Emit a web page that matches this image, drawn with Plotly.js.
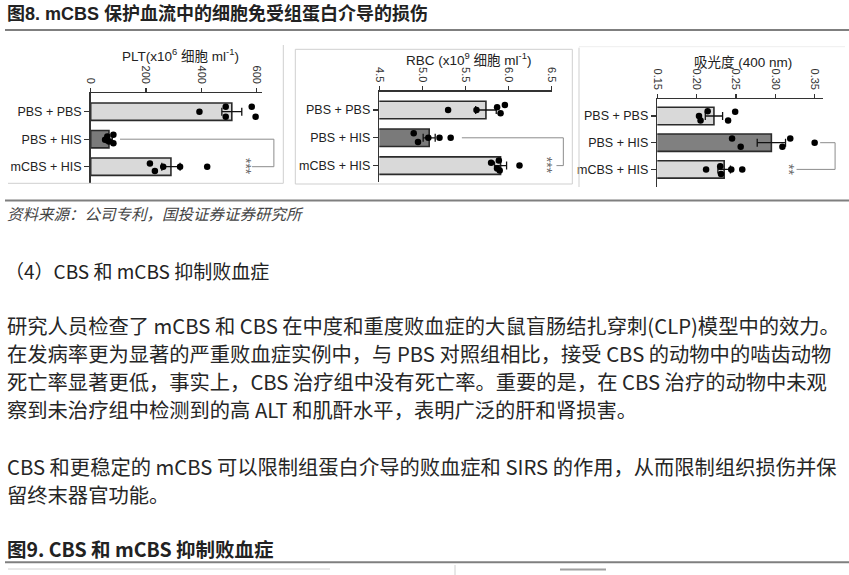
<!DOCTYPE html>
<html>
<head>
<meta charset="utf-8">
<script src="https://cdn.plot.ly/plotly-3.0.1.min.js"></script>
<style>
html,body{margin:0;padding:0;background:#fff;}
#chart{width:849px;height:575px;}
</style>
</head>
<body>
<div id="chart"></div>
<script>
// ---------------- data ----------------
const categories = ['PBS + PBS', 'PBS + HIS', 'mCBS + HIS'];

const plt_mean = [510, 66, 290];
const plt_sem = [36, 12, 33];
const plt_dots = [[393, 488, 488, 582, 596], [52, 60, 66, 82, 82], [214, 232, 262, 323, 421]];
const plt_jitter = [[0, -0.18, 0.18, -0.18, 0.18], [0.02, -0.1, 0.08, -0.16, 0.15], [-0.12, 0.16, 0, 0, 0]];
const plt_ticks = [0, 200, 400, 600];
const plt_bracket_x = [106, 662, 662, 583];
const plt_star_x = 564;

const rbc_mean = [5.74, 5.08, 5.91];
const rbc_sem = [0.12, 0.07, 0.07];
const rbc_dots = [[5.30, 5.63, 5.87, 5.91, 5.96], [4.90, 4.95, 5.07, 5.20, 5.33], [5.80, 5.87, 5.89, 5.90, 6.13]];
const rbc_jitter = [[0, 0, -0.1, 0.12, -0.18], [-0.16, 0.15, 0, 0, 0], [-0.1, 0.1, -0.18, 0.18, 0]];
const rbc_ticks = [4.5, 5.0, 5.5, 6.0, 6.5];
const rbc_bracket_x = [5.46, 6.64, 6.64, 6.56];
const rbc_star_x = 6.46;

const abs_mean = [0.222, 0.295, 0.235];
const abs_sem = [0.011, 0.018, 0.008];
const abs_dots = [[0.214, 0.203, 0.205, 0.240, 0.249], [0.245, 0.256, 0.309, 0.319, 0.350], [0.212, 0.230, 0.231, 0.244, 0.258]];
const abs_jitter = [[-0.18, 0, 0.17, 0.17, -0.16], [-0.16, 0.15, 0.15, -0.16, 0], [0, -0.12, 0.17, 0, 0]];
const abs_ticks = [0.15, 0.20, 0.25, 0.30, 0.35];
const abs_bracket_x = [0.357, 0.376, 0.376, 0.327];
const abs_star_x = 0.3165;

const bracket_y = [1, 1, 2, 2];

const titleText = '<b>图8. mCBS 保护血流中的细胞免受组蛋白介导的损伤</b>';
const sourceText = '<i>资料来源：公司专利，国投证券证券研究所</i>';
const headingText = '（4）CBS 和 mCBS 抑制败血症';
const para1 = [
  '研究人员检查了 mCBS 和 CBS 在中度和重度败血症的大鼠盲肠结扎穿刺(CLP)模型中的效力。',
  '在发病率更为显著的严重败血症实例中，与 PBS 对照组相比，接受 CBS 的动物中的啮齿动物',
  '死亡率显著更低，事实上，CBS 治疗组中没有死亡率。重要的是，在 CBS 治疗的动物中未观',
  '察到未治疗组中检测到的高 ALT 和肌酐水平，表明广泛的肝和肾损害。'
];
const para2 = [
  'CBS 和更稳定的 mCBS 可以限制组蛋白介导的败血症和 SIRS 的作用，从而限制组织损伤并保',
  '留终末器官功能。'
];
const fig9Text = '<b>图9. CBS 和 mCBS 抑制败血症</b>';

// ---------------- layout helpers ----------------
const W = 849, H = 575;
const px = v => v / W;
const py = v => 1 - v / H;

const chartFont = 'Liberation Sans, Arial, "Noto Sans CJK SC", sans-serif';
const bodyFont = '"Noto Sans CJK SC", sans-serif';

const panels = [
  {mean: plt_mean, sem: plt_sem, dots: plt_dots, jit: plt_jitter, ticks: plt_ticks, fmt: 'd',
   bx: plt_bracket_x, sx: plt_star_x, star: '***',
   L: 90.7, s: 0.2767, r: [0, 620], top: 93.3, bottom: 183.3, c0: 111.7, step: 27.5, ext: 283,
   colors: ['#d9d9d9', '#7a7a7a', '#d9d9d9'], bw: 0.63,
   title: 'PLT(x10<sup>6</sup> 细胞 ml<sup>-1</sup>)', tx: 180, ty: 55},
  {mean: rbc_mean, sem: rbc_sem, dots: rbc_dots, jit: rbc_jitter, ticks: rbc_ticks, fmt: '.1f',
   bx: rbc_bracket_x, sx: rbc_star_x, star: '***',
   L: 379.3, s: 86, r: [4.5, 6.51], top: 91.7, bottom: 182, c0: 110, step: 27.8, ext: 572,
   colors: ['#d9d9d9', '#7a7a7a', '#d9d9d9'], bw: 0.63,
   title: 'RBC (x10<sup>9</sup> 细胞 ml<sup>-1</sup>)', tx: 468, ty: 59},
  {mean: abs_mean, sem: abs_sem, dots: abs_dots, jit: abs_jitter, ticks: abs_ticks, fmt: '.2f',
   bx: abs_bracket_x, sx: abs_star_x, star: '**',
   L: 657.3, s: 786.7, r: [0.15, 0.361], top: 99.3, bottom: 186.7, c0: 116, step: 26.7, ext: 849,
   colors: ['#d9d9d9', '#808080', '#d9d9d9'], bw: 0.65,
   title: '吸光度 (400 nm)', tx: 743, ty: 62}
];

const traces = [];
const layout = {
  width: W, height: H,
  margin: {l: 0, r: 0, t: 0, b: 0},
  paper_bgcolor: '#fff', plot_bgcolor: 'rgba(0,0,0,0)',
  showlegend: false,
  font: {family: chartFont, color: '#222'},
  annotations: [],
  shapes: []
};

panels.forEach((p, i) => {
  const n = i + 1;
  const xa = n === 1 ? 'x' : 'x' + n;
  const ya = n === 1 ? 'y' : 'y' + n;
  const on = n + 3;
  const xo = 'x' + on, yo = 'y' + on;
  const yTop = -(p.c0 - p.top) / p.step;
  const yBot = 2 + (p.bottom - (p.c0 + 2 * p.step)) / p.step;
  const xEnd = p.L + (p.r[1] - p.r[0]) * p.s;
  const xExtRange = p.r[0] + (p.ext - p.L) / p.s;
  const ydom = [py(p.bottom), py(p.top)];

  layout['xaxis' + (n === 1 ? '' : n)] = {
    domain: [px(p.L), px(xEnd)], range: p.r, side: 'top', anchor: ya,
    tickvals: p.ticks, tickformat: p.fmt, tickangle: 90,
    ticks: 'outside', ticklen: 4, tickwidth: 1.2, tickcolor: '#333',
    showline: true, linecolor: '#333', linewidth: 1.5,
    showgrid: false, zeroline: false, fixedrange: true,
    tickfont: {size: 11, color: '#333', family: chartFont}
  };
  layout['yaxis' + (n === 1 ? '' : n)] = {
    domain: ydom, range: [yBot, yTop], anchor: xa,
    tickvals: [0, 1, 2], ticktext: categories,
    ticks: 'outside', ticklen: 5, tickwidth: 1.2, tickcolor: '#333',
    showline: true, linecolor: '#333', linewidth: 1.5,
    showgrid: false, zeroline: false, fixedrange: true,
    tickfont: {size: 12.5, color: '#222', family: chartFont}
  };
  layout['xaxis' + on] = {domain: [px(p.L), px(p.ext)], range: [p.r[0], xExtRange], anchor: yo, visible: false, fixedrange: true};
  layout['yaxis' + on] = {domain: ydom, range: [yBot, yTop], anchor: xo, visible: false, fixedrange: true};

  traces.push({
    type: 'bar', orientation: 'h', x: p.mean, y: [0, 1, 2], width: p.bw,
    xaxis: xa, yaxis: ya,
    marker: {color: p.colors, line: {color: '#2b2b2b', width: 1.6}},
    error_x: {type: 'data', array: p.sem, visible: true, color: '#111', thickness: 1.3, width: 4},
    hoverinfo: 'skip'
  });
  const dx = [], dy = [];
  p.dots.forEach((arr, g) => arr.forEach((v, k) => { dx.push(v); dy.push(g + p.jit[g][k]); }));
  traces.push({
    type: 'scatter', mode: 'markers', x: dx, y: dy, xaxis: xa, yaxis: ya,
    marker: {color: '#000', size: 6.5}, cliponaxis: false, hoverinfo: 'skip'
  });
  traces.push({
    type: 'scatter', mode: 'lines', x: p.bx, y: bracket_y, xaxis: xo, yaxis: yo,
    line: {color: '#8c8c8c', width: 1}, cliponaxis: false, hoverinfo: 'skip'
  });
  layout.annotations.push({
    xref: xo, yref: yo, x: p.sx, y: 2, text: p.star, textangle: 90,
    showarrow: false, font: {size: 14, color: '#6a6a6a', family: chartFont},
    xanchor: 'center', yanchor: 'middle'
  });
  layout.annotations.push({
    xref: 'paper', yref: 'paper', x: px(p.tx), y: py(p.ty), text: p.title,
    showarrow: false, font: {size: 13.5, color: '#222', family: chartFont},
    xanchor: 'center', yanchor: 'middle'
  });
});

// panel frames & rules
const gray = '#cfcfcf';
function line(x0, y0, x1, y1, color, width) {
  layout.shapes.push({type: 'line', xref: 'paper', yref: 'paper',
    x0: px(x0), y0: py(y0), x1: px(x1), y1: py(y1), line: {color: color, width: width}});
}
line(8, 183.3, 283.3, 183.3, gray, 1);
line(283.3, 45, 283.3, 183.3, gray, 1);
layout.shapes.push({type: 'rect', xref: 'paper', yref: 'paper',
  x0: px(295.3), x1: px(572.3), y0: py(184), y1: py(49.3), line: {color: gray, width: 1}});
line(579, 47.7, 579, 187, gray, 1);
line(579, 46.7, 845, 46.7, '#eeeeee', 1);
line(5, 30, 849, 30, '#7f7f7f', 2);
line(5, 200.5, 849, 200.5, '#7f7f7f', 2);
line(5, 562.3, 849, 562.3, '#7f7f7f', 2);
line(8, 569, 330, 569, '#d0d0d0', 1);
line(455, 565, 455, 575, '#d0d0d0', 1);
line(560, 569.5, 606, 569.5, '#a0a0a0', 2);

function txt(t, x, y, size, family, color) {
  layout.annotations.push({xref: 'paper', yref: 'paper', x: px(x), y: py(y), text: t,
    showarrow: false, xanchor: 'left', yanchor: 'middle', align: 'left', borderpad: 0,
    font: {size: size, family: family, color: color}});
}
txt(titleText, 6, 14, 18, 'Liberation Sans, "Noto Sans CJK SC", sans-serif', '#222');
txt(sourceText, 6, 213, 15.5, '"Noto Sans CJK SC", sans-serif', '#444');
txt(headingText, 4, 270, 19, bodyFont, '#222');
const bodyY1 = [325, 353, 381, 409];
para1.forEach((t, i) => txt(t, 6, bodyY1[i], 20.3, bodyFont, '#262626'));
const bodyY2 = [465.5, 493.5];
para2.forEach((t, i) => txt(t, 6, bodyY2[i], 20.3, bodyFont, '#262626'));
txt(fig9Text, 6, 548, 19.5, bodyFont, '#222');

Plotly.newPlot('chart', traces, layout, {displayModeBar: false, staticPlot: true});
</script>
</body>
</html>
